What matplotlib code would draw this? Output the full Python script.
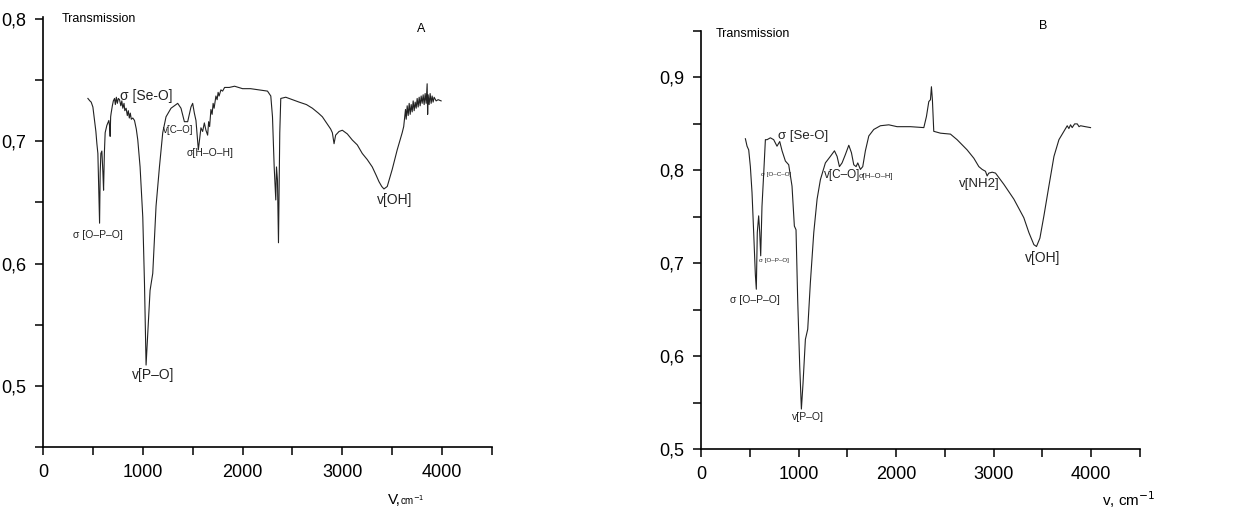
import matplotlib
matplotlib.use('Agg')
import matplotlib.pyplot as plt
import numpy as np

plt.rcParams['font.family'] = ['Liberation Sans', 'DejaVu Sans']

# spectrum A (wavenumber, transmission)
wn_a = [450, 470, 483, 500, 517, 530, 540, 550, 560, 567, 573, 580, 590, 600, 607, 615, 623, 640, 660,
        668, 673, 678, 683, 695, 705, 717, 725, 735, 745, 755, 767, 780, 790, 800, 812, 820, 833, 845,
        855, 865, 875, 885, 900, 917, 935, 950, 973, 1000, 1017, 1033, 1050, 1073, 1100, 1133, 1167,
        1200, 1233, 1283, 1350, 1383, 1417, 1450, 1483, 1500, 1517, 1533, 1557, 1583, 1600, 1617, 1633,
        1650, 1660, 1670, 1683, 1695, 1705, 1715, 1733, 1745, 1755, 1765, 1783, 1800, 1820, 1867, 1920,
        2000, 2080, 2167, 2250, 2283, 2300, 2317, 2333, 2340, 2350, 2360, 2373, 2383, 2433, 2500, 2567,
        2640, 2700, 2760, 2800, 2850, 2883, 2900, 2917, 2933, 2967, 3000, 3050, 3100, 3150, 3200, 3250,
        3300, 3340, 3367, 3395, 3417, 3450, 3500, 3550, 3600, 3615, 3633, 3640, 3650, 3660, 3670, 3680,
        3690, 3700, 3710, 3720, 3730, 3740, 3750, 3760, 3770, 3780, 3790, 3800, 3810, 3820, 3830, 3840,
        3850, 3855, 3860, 3870, 3880, 3890, 3900, 3910, 3920, 3940, 3960, 3990]
t_a = [0.735, 0.733, 0.732, 0.728, 0.717, 0.708, 0.698, 0.690, 0.655, 0.633, 0.674, 0.690, 0.692, 0.675,
       0.660, 0.690, 0.707, 0.713, 0.717, 0.712, 0.704, 0.720, 0.723, 0.729, 0.733, 0.735, 0.730, 0.736,
       0.731, 0.735, 0.734, 0.729, 0.733, 0.727, 0.731, 0.725, 0.727, 0.721, 0.725, 0.719, 0.723, 0.718,
       0.719, 0.717, 0.710, 0.701, 0.679, 0.638, 0.584, 0.517, 0.543, 0.578, 0.592, 0.647, 0.679, 0.707,
       0.720, 0.727, 0.731, 0.727, 0.716, 0.716, 0.728, 0.731, 0.723, 0.717, 0.693, 0.711, 0.708, 0.715,
       0.709, 0.705, 0.716, 0.712, 0.726, 0.722, 0.731, 0.727, 0.737, 0.734, 0.740, 0.737, 0.742, 0.741,
       0.744, 0.744, 0.745, 0.743, 0.743, 0.742, 0.741, 0.737, 0.720, 0.679, 0.652, 0.679, 0.668, 0.617,
       0.707, 0.735, 0.736, 0.734, 0.732, 0.730, 0.727, 0.723, 0.720, 0.714, 0.710, 0.707, 0.698, 0.705,
       0.708, 0.709, 0.706, 0.701, 0.697, 0.690, 0.685, 0.679, 0.672, 0.667, 0.663, 0.661, 0.663, 0.677,
       0.693, 0.707, 0.712, 0.726, 0.718, 0.729, 0.721, 0.731, 0.722, 0.730, 0.724, 0.733, 0.725, 0.732,
       0.727, 0.735, 0.728, 0.736, 0.729, 0.737, 0.731, 0.738, 0.730, 0.739, 0.731, 0.747, 0.722, 0.738,
       0.730, 0.739, 0.731, 0.737, 0.732, 0.736, 0.733, 0.734, 0.733]

# spectrum B
wn_b = [455, 472, 489, 506, 523, 540, 557, 567, 577, 591, 602, 612, 625, 643, 660, 677, 711, 745, 779,
        807, 831, 865, 899, 933, 957, 974, 991, 1012, 1029, 1046, 1070, 1094, 1121, 1156, 1190, 1224,
        1275, 1326, 1368, 1395, 1419, 1446, 1480, 1515, 1542, 1566, 1590, 1607, 1634, 1658, 1685, 1720,
        1771, 1839, 1925, 2010, 2147, 2284, 2311, 2335, 2352, 2362, 2372, 2386, 2455, 2557, 2625, 2728,
        2797, 2848, 2882, 2916, 2933, 2950, 2985, 3019, 3104, 3207, 3309, 3361, 3412, 3439, 3474, 3515,
        3566, 3618, 3669, 3720, 3754, 3771, 3788, 3805, 3830, 3857, 3875, 3891, 3940, 3993]
t_b = [0.834, 0.826, 0.822, 0.804, 0.776, 0.733, 0.688, 0.672, 0.733, 0.751, 0.733, 0.708, 0.761, 0.797,
       0.833, 0.833, 0.835, 0.833, 0.826, 0.831, 0.821, 0.810, 0.806, 0.783, 0.740, 0.736, 0.661, 0.589,
       0.543, 0.571, 0.618, 0.629, 0.679, 0.733, 0.769, 0.790, 0.808, 0.815, 0.821, 0.815, 0.804, 0.808,
       0.817, 0.827, 0.819, 0.806, 0.804, 0.808, 0.801, 0.804, 0.821, 0.837, 0.844, 0.848, 0.849, 0.847,
       0.847, 0.846, 0.858, 0.874, 0.876, 0.890, 0.876, 0.842, 0.840, 0.839, 0.833, 0.822, 0.813, 0.804,
       0.801, 0.799, 0.794, 0.797, 0.798, 0.797, 0.785, 0.769, 0.749, 0.733, 0.720, 0.718, 0.727, 0.751,
       0.783, 0.815, 0.833, 0.842, 0.848, 0.845, 0.849, 0.846, 0.850, 0.850, 0.847, 0.848, 0.847, 0.846]

labels_a = ['σ [O–P–O]', 'σ [Se-O]', 'v[P–O]', 'v[C–O]', 'σ[H–O–H]', 'v[OH]']
pos_a = [(550, 0.623), (773, 0.737), (1100, 0.509), (1360, 0.709), (1677, 0.690), (3527, 0.652)]
size_a = [7.5, 10, 10, 7, 7.5, 10]
ha_a = ['center', 'left', 'center', 'center', 'center', 'center']

labels_b = ['σ [Se-O]', 'σ [O–C–O]', 'σ [O–P–O]', 'σ [O–P–O]', 'v[P–O]', 'v[C–O]', 'σ[H–O–H]',
            'v[NH2]', 'v[OH]']
pos_b = [(786, 0.837), (773, 0.796), (752, 0.703), (557, 0.660), (1094, 0.534), (1446, 0.795),
         (1795, 0.793), (2848, 0.785), (3497, 0.706)]
size_b = [9.5, 4.5, 4.5, 7.5, 7.5, 8.5, 5.5, 9.5, 10]
ha_b = ['left', 'center', 'center', 'center', 'center', 'center', 'center', 'center', 'center']

fig = plt.figure(figsize=(12.38, 5.08), dpi=100)
ax1 = fig.add_axes([43/1238, 1-447/508, (492-43)/1238, (447-17)/508])
ax2 = fig.add_axes([701/1238, 1-449/508, (1140-701)/1238, (449-31)/508])


def style(ax, ylim, yt, ylab):
    ax.set_xlim(0, 4500)
    ax.set_ylim(*ylim)
    ax.spines['top'].set_visible(False)
    ax.spines['right'].set_visible(False)
    for s in ['left', 'bottom']:
        ax.spines[s].set_linewidth(1.2)
    ax.set_xticks(np.arange(0, 4501, 500))
    ax.set_xticklabels(['0', '', '1000', '', '2000', '', '3000', '', '4000', ''])
    ax.set_yticks(yt)
    ax.set_yticklabels(ylab)
    ax.tick_params(direction='out', length=6, width=1.1, labelsize=13, pad=6)
    for lab in ax.get_xticklabels() + ax.get_yticklabels():
        lab.set_family(['Liberation Sans Narrow', 'Liberation Sans'])


ax1.plot(wn_a, t_a, color='#222222', lw=0.8)
style(ax1, (0.45, 0.8016), [0.45, 0.5, 0.55, 0.6, 0.65, 0.7, 0.75, 0.8],
      ['', '0,5', '', '0,6', '', '0,7', '', '0,8'])
for lab, p, s, h in zip(labels_a, pos_a, size_a, ha_a):
    ax1.text(p[0], p[1], lab, fontsize=s, ha=h, va='center', color='#222222')

ax2.plot(wn_b, t_b, color='#222222', lw=0.8)
style(ax2, (0.5, 0.95), [0.5, 0.55, 0.6, 0.65, 0.7, 0.75, 0.8, 0.85, 0.9, 0.95],
      ['0,5', '', '0,6', '', '0,7', '', '0,8', '', '0,9', ''])
for lab, p, s, h in zip(labels_b, pos_b, size_b, ha_b):
    ax2.text(p[0], p[1], lab, fontsize=s, ha=h, va='center', color='#222222')

fig.text(62/1238, 1-19/508, 'Transmission', fontsize=9, va='center')
fig.text(716/1238, 1-34/508, 'Transmission', fontsize=9, va='center')
fig.text(421/1238, 1-29/508, 'A', fontsize=9, va='center', ha='center')
fig.text(1043/1238, 1-26/508, 'B', fontsize=9, va='center', ha='center')
fig.text(388/1238, 1-500/508, 'V,', fontsize=11, va='center')
fig.text(400/1238, 1-500/508, 'cm$^{-1}$', fontsize=7, va='center')
fig.text(1102/1238, 1-500/508, 'v, cm$^{-1}$', fontsize=11, va='center')

fig.savefig('out.png', dpi=100)
